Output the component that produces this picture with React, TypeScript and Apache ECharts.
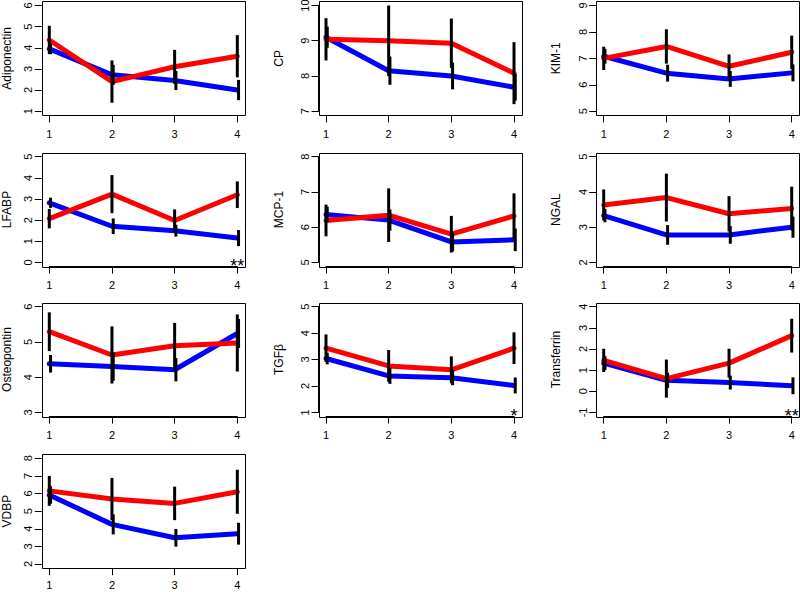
import React, { useEffect, useRef } from "react";
import * as echarts from "echarts";

const timepoints = [1, 2, 3, 4];
const panelNames = ["Adiponectin", "CP", "KIM-1", "LFABP", "MCP-1", "NGAL", "Osteopontin", "TGFβ", "Transferrin", "VDBP"];
const yTickMin = [1, 7, 5, 0, 5, 2, 3, 1, -1, 2];
const yTickMax = [6, 10, 9, 5, 8, 5, 6, 5, 4, 8];
const significance = ["", "", "", "**", "", "", "", "*", "**", ""];

const adiponectinBlue = [3.95, 2.72, 2.45, 2.0];
const adiponectinBlueSE = [0.25, 0.47, 0.45, 0.48];
const adiponectinRed = [4.37, 2.4, 3.1, 3.6];
const adiponectinRedSE = [0.67, 1.0, 0.8, 1.0];

const cpBlue = [9.1, 8.15, 8.0, 7.68];
const cpBlueSE = [0.3, 0.4, 0.38, 0.38];
const cpRed = [9.04, 9.0, 8.93, 8.08];
const cpRedSE = [0.6, 1.0, 0.7, 0.88];

const kimBlue = [7.08, 6.44, 6.22, 6.45];
const kimBlueSE = [0.28, 0.32, 0.3, 0.32];
const kimRed = [7.0, 7.45, 6.7, 7.23];
const kimRedSE = [0.44, 0.65, 0.45, 0.63];

const lfabpBlue = [2.82, 1.71, 1.5, 1.15];
const lfabpBlueSE = [0.24, 0.37, 0.28, 0.38];
const lfabpRed = [2.07, 3.23, 1.98, 3.2];
const lfabpRedSE = [0.46, 0.9, 0.53, 0.63];

const mcpBlue = [6.36, 6.2, 5.58, 5.64];
const mcpBlueSE = [0.22, 0.3, 0.27, 0.32];
const mcpRed = [6.19, 6.34, 5.8, 6.32];
const mcpRedSE = [0.45, 0.76, 0.52, 0.64];

const ngalBlue = [3.33, 2.78, 2.78, 3.0];
const ngalBlueSE = [0.19, 0.28, 0.25, 0.3];
const ngalRed = [3.63, 3.84, 3.38, 3.53];
const ngalRedSE = [0.44, 0.68, 0.5, 0.62];

const osteoBlue = [4.38, 4.3, 4.21, 5.24];
const osteoBlueSE = [0.25, 0.4, 0.33, 0.41];
const osteoRed = [5.29, 4.63, 4.89, 4.97];
const osteoRedSE = [0.55, 0.81, 0.65, 0.81];

const tgfBlue = [3.04, 2.38, 2.31, 2.02];
const tgfBlueSE = [0.22, 0.3, 0.28, 0.3];
const tgfRed = [3.43, 2.76, 2.61, 3.43];
const tgfRedSE = [0.52, 0.6, 0.51, 0.6];

const transBlue = [1.33, 0.52, 0.41, 0.26];
const transBlueSE = [0.33, 0.36, 0.33, 0.4];
const transRed = [1.46, 0.6, 1.33, 2.63];
const transRedSE = [0.55, 0.9, 0.68, 0.8];

const vdbpBlue = [5.92, 4.25, 3.49, 3.72];
const vdbpBlueSE = [0.5, 0.57, 0.5, 0.62];
const vdbpRed = [6.15, 5.69, 5.44, 6.1];
const vdbpRedSE = [0.85, 1.2, 0.95, 1.25];

const blueMeans = [adiponectinBlue, cpBlue, kimBlue, lfabpBlue, mcpBlue, ngalBlue, osteoBlue, tgfBlue, transBlue, vdbpBlue];
const blueSEs = [adiponectinBlueSE, cpBlueSE, kimBlueSE, lfabpBlueSE, mcpBlueSE, ngalBlueSE, osteoBlueSE, tgfBlueSE, transBlueSE, vdbpBlueSE];
const redMeans = [adiponectinRed, cpRed, kimRed, lfabpRed, mcpRed, ngalRed, osteoRed, tgfRed, transRed, vdbpRed];
const redSEs = [adiponectinRedSE, cpRedSE, kimRedSE, lfabpRedSE, mcpRedSE, ngalRedSE, osteoRedSE, tgfRedSE, transRedSE, vdbpRedSE];

// layout
const colLeft = [49.3, 326, 603.7];
const rowTop = [5.5, 156.7, 306.7, 458.3];
const plotW = 188;
const plotH = 105.7;
const padX = 7.5;
const padY = 4.2;
const nameGaps = [29, 34, 34];
const FONT = "'Liberation Sans', Arial, Helvetica, sans-serif";

function buildOption() {
  const grids: any[] = [];
  const xAxes: any[] = [];
  const yAxes: any[] = [];
  const series: any[] = [];
  const graphics: any[] = [];

  panelNames.forEach((name, i) => {
    const c = i % 3;
    const r = Math.floor(i / 3);
    const left = colLeft[c];
    const top = rowTop[r];
    grids.push({ left, top, width: plotW, height: plotH, containLabel: false, outerBoundsMode: "none" });
    graphics.push({
      type: "rect",
      silent: true,
      z: 10,
      shape: { x: Math.round(left - padX) + 0.5, y: Math.round(top - padY) + 0.5, width: Math.round(plotW + 2 * padX), height: Math.round(plotH + 2 * padY) },
      style: { fill: "none", stroke: "#000", lineWidth: 1 },
    });
    xAxes.push({
      type: "value",
      gridIndex: i,
      min: 1,
      max: 4,
      interval: 1,
      offset: padY,
      axisLine: { show: true, onZero: false, lineStyle: { color: "#000", width: 1 } },
      axisTick: { show: true, length: 7, lineStyle: { color: "#000", width: 1 } },
      axisLabel: { color: "#000", fontSize: 11, fontFamily: FONT, margin: r === 3 ? 11 : 13 },
      splitLine: { show: false },
    });
    yAxes.push({
      type: "value",
      gridIndex: i,
      min: yTickMin[i],
      max: yTickMax[i],
      interval: 1,
      offset: padX,
      name,
      nameLocation: "middle",
      nameRotate: 90,
      nameGap: nameGaps[c],
      nameTextStyle: { color: "#000", fontSize: 12, fontFamily: FONT },
      axisLine: { show: true, onZero: false, lineStyle: { color: "#000", width: 1 } },
      axisTick: { show: true, length: 7, lineStyle: { color: "#000", width: 1 } },
      axisLabel: { color: "#000", fontSize: 11, fontFamily: FONT, rotate: 90, margin: 8 },
      splitLine: { show: false },
    });

    series.push({
      type: "line",
      xAxisIndex: i,
      yAxisIndex: i,
      data: timepoints.map((t, j) => [t, blueMeans[i][j]]),
      symbol: "none",
      lineStyle: { color: "#0000ff", width: 5, cap: "round", join: "round" },
      z: 2,
      silent: true,
    });
    series.push({
      type: "line",
      xAxisIndex: i,
      yAxisIndex: i,
      data: timepoints.map((t, j) => [t, redMeans[i][j]]),
      symbol: "none",
      lineStyle: { color: "#ff0000", width: 5, cap: "round", join: "round" },
      z: 3,
      silent: true,
    });
    const bars: number[][] = [];
    timepoints.forEach((t, j) => {
      bars.push([t, redMeans[i][j] - redSEs[i][j], redMeans[i][j] + redSEs[i][j]]);
      bars.push([t + 0.02, blueMeans[i][j] - blueSEs[i][j], blueMeans[i][j] + blueSEs[i][j]]);
    });
    series.push({
      type: "custom",
      xAxisIndex: i,
      yAxisIndex: i,
      data: bars,
      encode: { x: 0, y: [1, 2] },
      z: 4,
      silent: true,
      renderItem: (params: any, api: any) => {
        const x = api.value(0);
        const p1 = api.coord([x, api.value(1)]);
        const p2 = api.coord([x, api.value(2)]);
        return {
          type: "line",
          shape: { x1: p1[0], y1: p1[1], x2: p2[0], y2: p2[1] },
          style: { stroke: "#000", lineWidth: 3 },
        };
      },
    });
    if (significance[i]) {
      series.push({
        type: "custom",
        xAxisIndex: i,
        yAxisIndex: i,
        data: [[4, yTickMin[i]]],
        z: 5,
        silent: true,
        clip: false,
        renderItem: (params: any, api: any) => {
          const p = api.coord([api.value(0), api.value(1)]);
          return {
            type: "text",
            x: p[0],
            y: p[1] + 4,
            style: {
              text: significance[i],
              fontSize: 18,
              fontFamily: FONT,
              fill: "#000",
              align: "center",
              verticalAlign: "middle",
            },
          };
        },
      });
    }
  });

  return {
    animation: false,
    backgroundColor: "#fff",
    textStyle: { fontFamily: FONT },
    grid: grids,
    xAxis: xAxes,
    yAxis: yAxes,
    series,
    graphic: graphics,
  };
}

export default function App() {
  const ref = useRef<HTMLDivElement>(null);
  useEffect(() => {
    if (!ref.current) return;
    const chart = echarts.init(ref.current, undefined, { renderer: "svg" });
    chart.setOption(buildOption() as any);
    return () => chart.dispose();
  }, []);
  return <div ref={ref} style={{ position: "fixed", left: 0, top: 0, width: 800, height: 592, background: "#fff" }} />;
}
